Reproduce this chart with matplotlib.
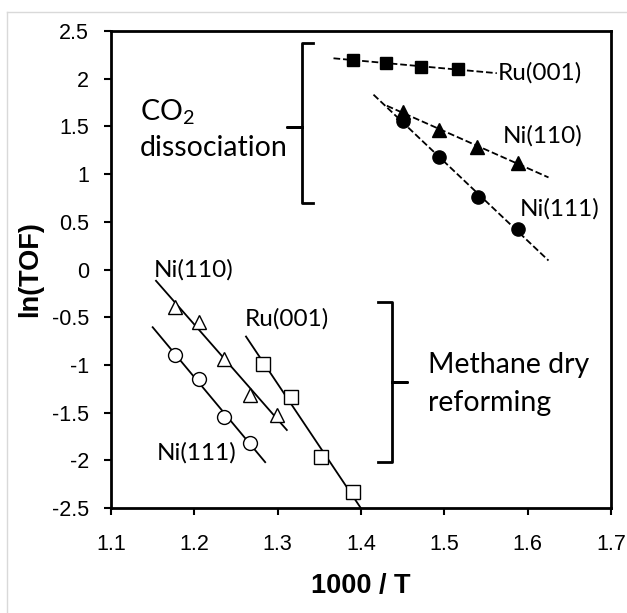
import numpy as np
import matplotlib
matplotlib.use("Agg")
import matplotlib.pyplot as plt
from matplotlib.lines import Line2D

# CO2 dissociation (filled markers, dashed fits)
co2_ru001_x = [1.39, 1.43, 1.472, 1.516]
co2_ru001_y = [2.20, 2.16, 2.125, 2.10]
co2_ni110_x = [1.45, 1.494, 1.539, 1.588]
co2_ni110_y = [1.654, 1.462, 1.287, 1.119]
co2_ni111_x = [1.45, 1.494, 1.540, 1.588]
co2_ni111_y = [1.557, 1.176, 0.763, 0.424]

# methane dry reforming (open markers, solid fits)
mdr_ni110_x = [1.177, 1.206, 1.235, 1.267, 1.299]
mdr_ni110_y = [-0.39, -0.547, -0.938, -1.316, -1.525]
mdr_ni111_x = [1.177, 1.205, 1.236, 1.267]
mdr_ni111_y = [-0.896, -1.151, -1.543, -1.816]
mdr_ru001_x = [1.283, 1.316, 1.352, 1.39]
mdr_ru001_y = [-0.991, -1.340, -1.969, -2.335]

x_ticks = [1.1, 1.2, 1.3, 1.4, 1.5, 1.6, 1.7]
y_ticks = [2.5, 2, 1.5, 1, 0.5, 0, -0.5, -1, -1.5, -2, -2.5]

plt.rcParams['mathtext.fontset'] = 'custom'
plt.rcParams['mathtext.rm'] = 'Lato'
note_font = 'Lato'
axis_font = 'Liberation Sans'

fig = plt.figure(figsize=(6.27, 6.13), dpi=100)
ax = fig.add_axes([111 / 627, 105 / 613, 500 / 627, 477 / 613])

# light chart border (only left and top visible)
fx = 7 / 627
fy = 1 - 12 / 613
fig.add_artist(Line2D([fx, fx], [0, fy], color='#d9d9d9', lw=1, transform=fig.transFigure))
fig.add_artist(Line2D([fx, 1], [fy, fy], color='#d9d9d9', lw=1, transform=fig.transFigure))


def trend(xs, ys, x0, x1, style):
    k, b = np.polyfit(xs, ys, 1)
    xx = np.array([x0, x1])
    ax.plot(xx, k * xx + b, style, color='black', lw=1.3, zorder=2)


trend(co2_ru001_x, co2_ru001_y, 1.367, 1.563, '--')
trend(co2_ni110_x, co2_ni110_y, 1.431, 1.625, '--')
trend(co2_ni111_x, co2_ni111_y, 1.415, 1.625, '--')
trend(mdr_ni110_x, mdr_ni110_y, 1.154, 1.311, '-')
trend(mdr_ni111_x, mdr_ni111_y, 1.150, 1.285, '-')
trend(mdr_ru001_x, mdr_ru001_y, 1.262, 1.403, '-')

ax.plot(co2_ru001_x, co2_ru001_y, 's', color='black', ms=9, zorder=3)
ax.plot(co2_ni110_x, co2_ni110_y, '^', color='black', ms=9.5, zorder=3)
ax.plot(co2_ni111_x, co2_ni111_y, 'o', color='black', ms=9.5, zorder=3)
ax.plot(mdr_ni110_x, mdr_ni110_y, '^', mfc='white', mec='black', mew=1, ms=10.5, zorder=3)
ax.plot(mdr_ni111_x, mdr_ni111_y, 'o', mfc='white', mec='black', mew=1, ms=10, zorder=3)
ax.plot(mdr_ru001_x, mdr_ru001_y, 's', mfc='white', mec='black', mew=1, ms=10, zorder=3)

# series labels
fs = 17.5
ax.text(1.564, 2.06, 'Ru(001)', fontsize=fs, family=note_font, va='center')
ax.text(1.570, 1.40, 'Ni(110)', fontsize=fs, family=note_font, va='center')
ax.text(1.591, 0.634, 'Ni(111)', fontsize=fs, family=note_font, va='center')
ax.text(1.151, -0.005, 'Ni(110)', fontsize=fs, family=note_font, va='center')
ax.text(1.261, -0.522, 'Ru(001)', fontsize=fs, family=note_font, va='center')
ax.text(1.155, -1.92, 'Ni(111)', fontsize=fs, family=note_font, va='center')

# group labels
gs = 20.5
ax.text(1.135, 1.651, 'CO$_2$', fontsize=gs, family=note_font, va='center')
ax.text(1.135, 1.274, 'dissociation', fontsize=gs, family=note_font, va='center')
ax.text(1.480, -1.001, 'Methane dry', fontsize=gs, family=note_font, va='center')
ax.text(1.480, -1.399, 'reforming', fontsize=gs, family=note_font, va='center')

# braces
ax.plot([1.342, 1.329, 1.329, 1.311, 1.329, 1.329, 1.342],
        [2.374, 2.374, 1.494, 1.494, 1.494, 0.697, 0.697],
        color='black', lw=2, solid_joinstyle='round', clip_on=False)
ax.plot([1.42, 1.437, 1.437, 1.455, 1.437, 1.437, 1.42],
        [-0.338, -0.338, -1.176, -1.176, -1.176, -2.015, -2.015],
        color='black', lw=2, solid_joinstyle='round', clip_on=False)

ax.set_xlim(1.1, 1.7)
ax.set_ylim(-2.5, 2.5)
ax.set_xticks(x_ticks)
ax.set_yticks(y_ticks)
ax.set_xticklabels([f'{v:g}' for v in x_ticks], family=axis_font, fontsize=15.5)
ax.set_yticklabels([f'{v:g}' for v in y_ticks], family=axis_font, fontsize=15.5)
ax.tick_params(direction='out', length=5, width=1.5)
ax.tick_params(axis='x', pad=14)
ax.tick_params(axis='y', pad=11)
for s in ax.spines.values():
    s.set_linewidth(2)
ax.set_xlabel('1000 / T', family=axis_font, fontsize=19.5, fontweight='bold', labelpad=13)
ax.set_ylabel('ln(TOF)', family=axis_font, fontsize=19.5, fontweight='bold', labelpad=6)

fig.savefig('out.png', dpi=100)
